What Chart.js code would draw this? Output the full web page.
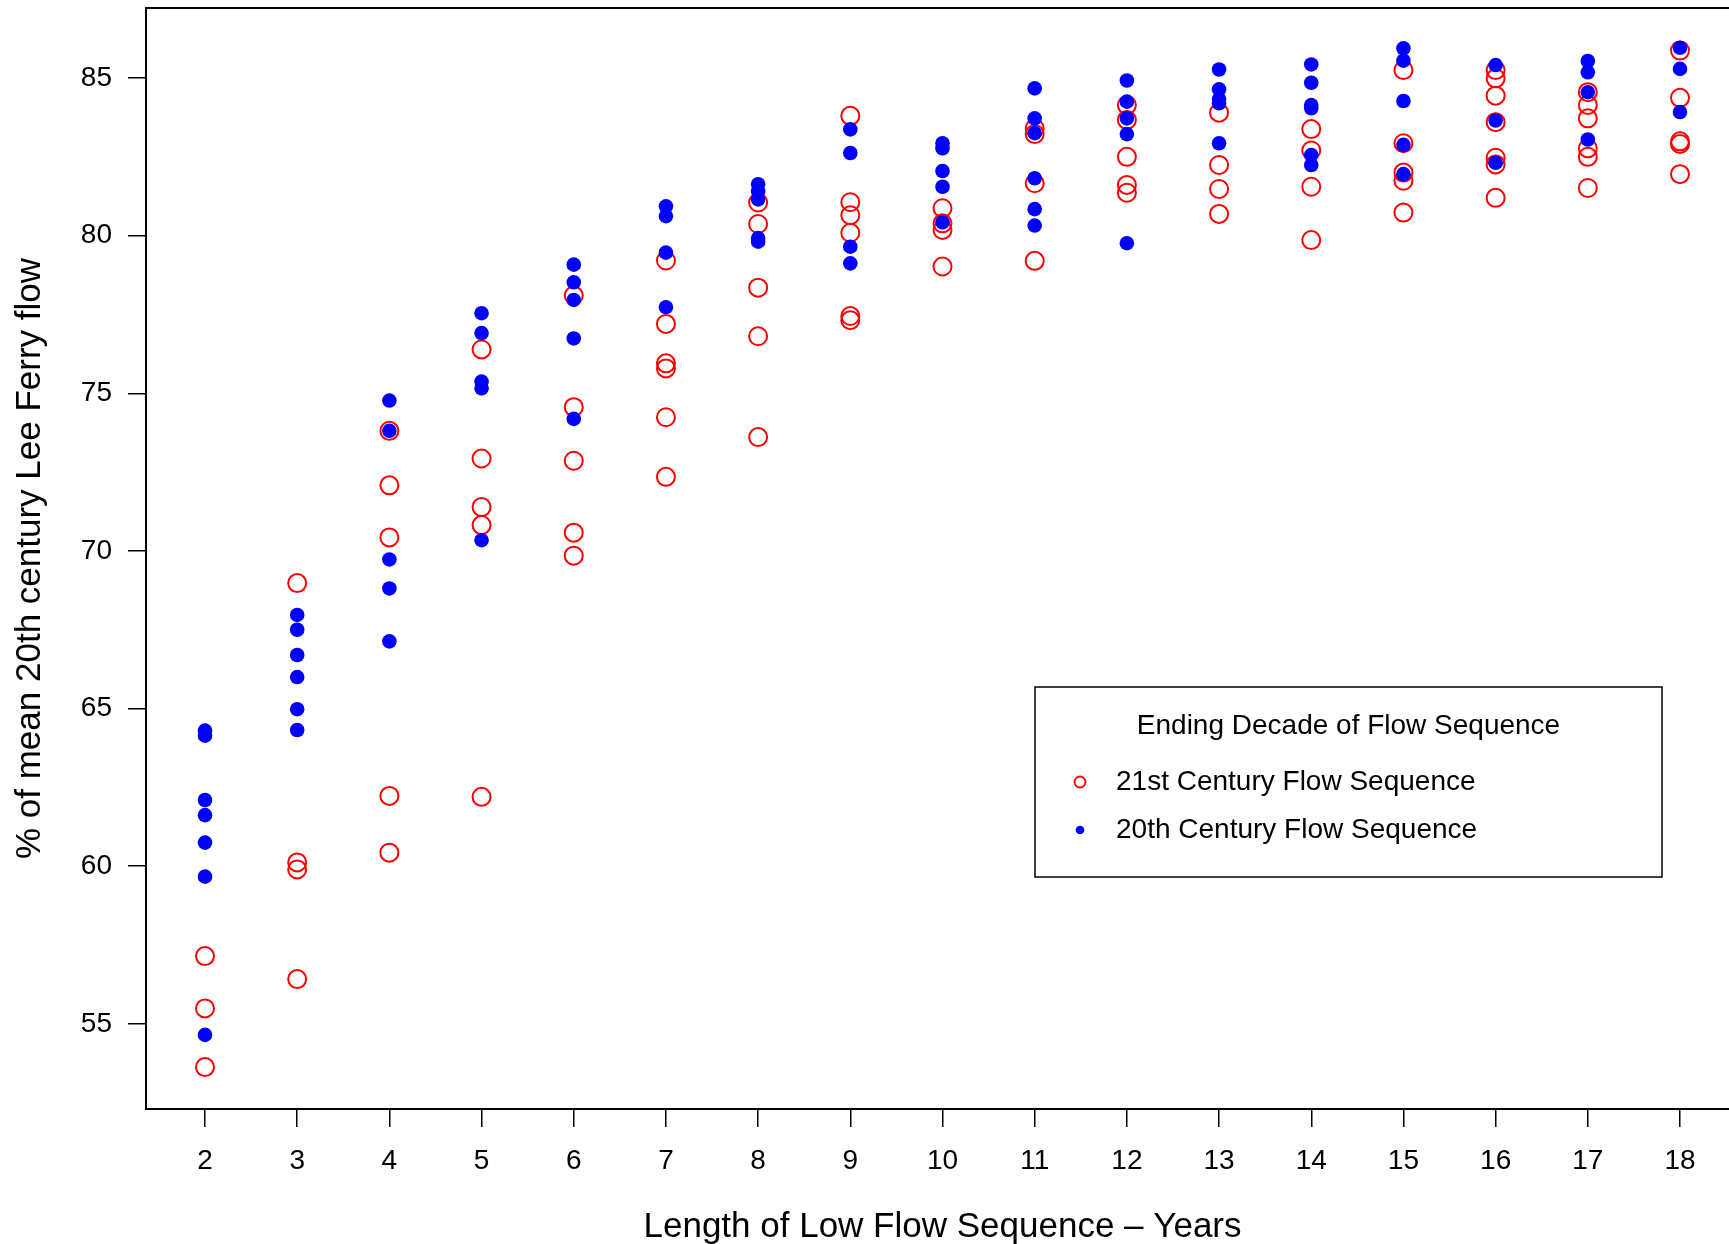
<!DOCTYPE html>
<html>
<head>
<meta charset="utf-8">
<title>Low flow sequences</title>
<script src="https://cdn.jsdelivr.net/npm/chart.js@4.4.1/dist/chart.umd.min.js"></script>
<style>
  html, body { margin: 0; padding: 0; background: #fff; overflow: hidden; }
  #wrap { width: 1740px; height: 1244px; position: relative; }
  canvas { display: block; }
</style>
</head>
<body>
<div id="wrap"><canvas id="chart" width="1740" height="1244"></canvas></div>
<script>
/* DATA */
const lengths = [2, 3, 4, 5, 6, 7, 8, 9, 10, 11, 12, 13, 14, 15, 16, 17, 18];
const yTicks = [55, 60, 65, 70, 75, 80, 85];

// 21st century flow sequences, one list per sequence length
const century21 = [
    [57.15, 55.49, 53.63],
    [68.98, 60.12, 59.90, 56.42],
    [73.81, 72.08, 70.43, 62.23, 60.43],
    [76.39, 72.93, 71.39, 70.82, 62.20],
    [78.10, 74.56, 72.86, 70.58, 69.85],
    [79.21, 77.20, 75.95, 75.79, 74.24, 72.35],
    [81.05, 80.37, 78.35, 76.81, 73.61],
    [83.80, 81.06, 80.65, 80.09, 77.45, 77.32],
    [80.87, 80.39, 80.18, 79.02],
    [83.40, 83.22, 81.66, 79.20],
    [84.14, 83.67, 82.50, 81.61, 81.36],
    [83.90, 82.24, 81.48, 80.69],
    [83.38, 82.70, 81.55, 79.86],
    [85.25, 82.93, 82.00, 81.74, 80.73],
    [85.25, 84.99, 84.44, 83.60, 82.47, 82.26, 81.20],
    [84.55, 84.14, 83.72, 82.77, 82.50, 81.51],
    [85.87, 84.37, 82.99, 82.91, 81.95]
];

// 20th century flow sequences
const century20 = [
    [64.30, 64.14, 62.10, 61.62, 60.75, 59.67, 54.65],
    [67.97, 67.50, 66.70, 66.00, 64.98, 64.32],
    [74.77, 73.81, 69.73, 68.81, 67.13],
    [77.54, 76.91, 75.37, 75.16, 70.34],
    [79.08, 78.52, 77.96, 76.74, 74.19],
    [80.93, 80.62, 79.46, 77.73],
    [81.63, 81.40, 81.15, 79.92, 79.81],
    [83.37, 82.62, 79.65, 79.12],
    [82.93, 82.77, 82.05, 81.55, 80.42],
    [84.67, 83.72, 83.25, 81.82, 80.84, 80.32],
    [84.92, 84.25, 83.72, 83.22, 79.76],
    [85.27, 84.64, 84.33, 84.20, 82.93],
    [85.43, 84.85, 84.14, 84.04, 82.56, 82.24],
    [85.94, 85.55, 84.27, 82.88, 81.95],
    [85.41, 83.65, 82.31],
    [85.54, 85.18, 84.55, 83.05],
    [85.96, 85.29, 83.92]
];

const xTitle = "Length of Low Flow Sequence \u2013 Years";
const yTitle = "% of mean 20th century Lee Ferry flow";
const legendTitle = "Ending Decade of Flow Sequence";
const label21 = "21st Century Flow Sequence";
const label20 = "20th Century Flow Sequence";

const FONT = "'Liberation Sans', Arial, Helvetica, sans-serif";
Chart.defaults.font.family = FONT;
Chart.defaults.color = "#000";

function toPoints(groups) {
    let pts = [];
    groups.forEach((vals, i) => {
        vals.forEach(v => pts.push({ x: lengths[i], y: v }));
    });
    return pts;
}

/* FRAME (box round the plot area) */
const framePlugin = {
    id: "frame",
    beforeDatasetsDraw(chart) {
        const { ctx, chartArea: a } = chart;
        ctx.save();
        ctx.strokeStyle = "#000";
        ctx.lineWidth = 2;
        ctx.strokeRect(a.left, a.top, a.right - a.left, a.bottom - a.top);
        ctx.restore();
    }
};

/* LEGEND BOX inside the plot */
const legendBox = {
    id: "legendBox",
    afterDraw(chart) {
        const { ctx, chartArea: a } = chart;
        const x0 = a.left + 889, y0 = a.top + 679, w = 627, h = 190;
        ctx.save();
        ctx.strokeStyle = "#000";
        ctx.lineWidth = 1.5;
        ctx.strokeRect(x0, y0, w, h);

        ctx.fillStyle = "#000";
        ctx.font = "28px " + FONT;
        ctx.textBaseline = "middle";
        ctx.textAlign = "center";
        ctx.fillText(legendTitle, x0 + w / 2, y0 + 39);

        const rows = chart.data.datasets;
        ctx.textAlign = "left";
        rows.forEach((ds, i) => {
            const cy = y0 + 95 + i * 48;
            const mx = x0 + 45;
            ctx.beginPath();
            if (ds.borderWidth > 0) {
                ctx.arc(mx, cy, 5.5, 0, Math.PI * 2);
                ctx.lineWidth = 1.8;
                ctx.strokeStyle = ds.borderColor;
                ctx.stroke();
            } else {
                ctx.arc(mx, cy, 4.3, 0, Math.PI * 2);
                ctx.fillStyle = ds.backgroundColor;
                ctx.fill();
            }
            ctx.fillStyle = "#000";
            ctx.fillText(ds.label, x0 + 81, cy);
        });
        ctx.restore();
    }
};

let ctx = document.getElementById("chart").getContext("2d");

let chart = new Chart(ctx, {
    type: "scatter",
    data: {
        datasets: [{
            label: label21,
            data: toPoints(century21),
            pointRadius: 9,
            borderWidth: 2,
            borderColor: "#FF0000",
            backgroundColor: "rgba(0,0,0,0)",
            order: 1
        }, {
            label: label20,
            data: toPoints(century20),
            pointRadius: 7.3,
            borderWidth: 0,
            borderColor: "#0000FF",
            backgroundColor: "#0000FF",
            order: 0
        }]
    },
    options: {
        responsive: false,
        devicePixelRatio: 1,
        animation: false,
        events: [],
        layout: { autoPadding: false, padding: { top: 8, right: 1, left: 0, bottom: 0 } },
        plugins: {
            legend: { display: false },
            tooltip: { enabled: false }
        },
        scales: {
            x: {
                type: "linear",
                min: 1.36,
                max: 18.64,
                afterBuildTicks: s => { s.ticks = lengths.map(v => ({ value: v })); },
                afterFit: s => {
                    s.height = 135;
                    s.paddingLeft = 0;
                    s.paddingRight = 0;
                },
                border: { display: false },
                grid: { drawOnChartArea: false, tickLength: 18, color: "#000", lineWidth: 1.5 },
                ticks: { padding: 17, font: { size: 28 }, maxRotation: 0, autoSkip: false },
                title: { display: true, text: xTitle, font: { size: 35 }, padding: { top: 0, bottom: -4 } }
            },
            y: {
                type: "linear",
                min: 52.30,
                max: 87.22,
                afterBuildTicks: s => { s.ticks = yTicks.map(v => ({ value: v })); },
                afterFit: s => {
                    s.width = 146;
                    s.paddingTop = 0;
                    s.paddingBottom = 0;
                },
                border: { display: false },
                grid: { drawOnChartArea: false, tickLength: 18, color: "#000", lineWidth: 1.5 },
                ticks: { padding: 16, font: { size: 28 } },
                title: { display: true, text: yTitle, font: { size: 35 }, padding: { top: 9, bottom: 0 } }
            }
        }
    },
    plugins: [framePlugin, legendBox]
});
</script>
</body>
</html>
